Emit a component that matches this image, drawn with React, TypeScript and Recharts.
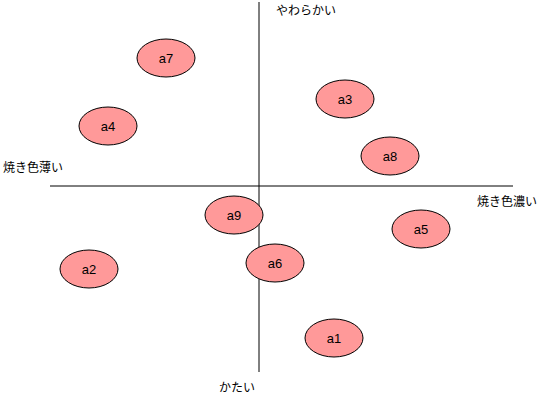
import React from 'react';
import { ScatterChart, Scatter, XAxis, YAxis, ReferenceLine } from 'recharts';

// item names and positions on the map (x: 焼き色 薄い→濃い, y: かたい→やわらかい)
const names = ['a1', 'a2', 'a3', 'a4', 'a5', 'a6', 'a7', 'a8', 'a9'];
const xs = [75, -170, 86, -151, 162, 16, -93, 131, -25];
const ys = [-152, -83, 87, 60, -43, -77, 128, 30, -29];

const points = names.map((name, i) => ({ name, x: xs[i], y: ys[i] }));

const W = 544;
const H = 397;

const Ellipse = (props: any) => {
  const { cx, cy, payload } = props;
  return (
    <g>
      <ellipse cx={cx} cy={cy} rx={29} ry={19} fill="#FF9999" stroke="#000" strokeWidth={1} />
      <text
        x={cx}
        y={cy}
        textAnchor="middle"
        dominantBaseline="central"
        fontFamily="'Liberation Sans', Arial, sans-serif"
        fontSize={13}
        fill="#000"
      >
        {payload.name}
      </text>
    </g>
  );
};

const labelStyle: React.CSSProperties = {
  position: 'absolute',
  fontFamily: "'Noto Sans CJK JP', sans-serif",
  fontSize: 12,
  lineHeight: '14px',
  color: '#000',
  whiteSpace: 'nowrap',
};

export default function App() {
  return (
    <div style={{ position: 'absolute', left: 0, top: 0, width: W, height: H, background: '#fff' }}>
      <ScatterChart width={W} height={H} margin={{ top: 0, right: 0, bottom: 0, left: 0 }}>
        <XAxis type="number" dataKey="x" domain={[-259, 285]} hide />
        <YAxis type="number" dataKey="y" domain={[-211, 186]} hide />
        <ReferenceLine segment={[{ x: 0, y: 184 }, { x: 0, y: -186 }]} stroke="#000" strokeWidth={1} />
        <ReferenceLine segment={[{ x: -209, y: 0 }, { x: 254, y: 0 }]} stroke="#000" strokeWidth={1} />
        <Scatter data={points} shape={<Ellipse />} isAnimationActive={false} />
      </ScatterChart>
      <div style={{ ...labelStyle, left: 276, top: 3 }}>やわらかい</div>
      <div style={{ ...labelStyle, left: 3, top: 160 }}>焼き色薄い</div>
      <div style={{ ...labelStyle, left: 477, top: 194 }}>焼き色濃い</div>
      <div style={{ ...labelStyle, left: 219, top: 380 }}>かたい</div>
    </div>
  );
}
